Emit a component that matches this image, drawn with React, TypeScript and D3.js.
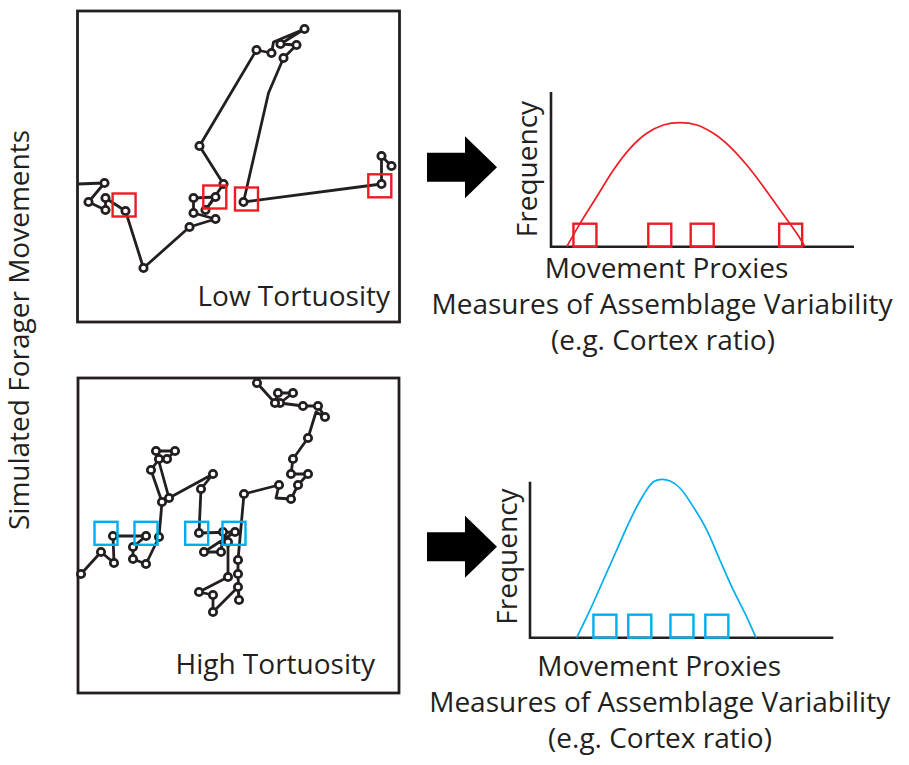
import React from 'react';
import * as d3 from 'd3';

const INK = '#231f20';
const RED = '#ed1c24';
const BLUE = '#00aeef';
const FONT = "'Open Sans', 'Noto Sans', sans-serif";

// ---- Simulated forager walks (panel-relative units), [x, y, isLocation]
const lowWalk: [number, number, number][] = [
  [0, 173, 0], [27, 172, 1], [11, 191, 1], [28, 199, 1], [28, 187, 1], [48, 200, 1],
  [66, 257, 1], [112, 216, 1], [138, 208, 1], [116, 202, 1], [116, 187, 1], [138, 186, 1],
  [128, 199, 1], [146, 173, 1], [122, 135, 1], [179, 39, 1], [194, 42, 1], [196, 31, 0],
  [227, 18, 1], [203, 33, 1], [219, 34, 1], [206, 47, 1], [191, 82, 0], [166, 191, 1],
  [304, 173, 1], [304, 145, 1], [314, 155, 1],
];
const lowSamples: [number, number][] = [[46.6, 194], [137.3, 186], [169, 188], [302.3, 174.8]];

const highWalk: [number, number, number][] = [
  [3, 196, 1], [23, 174, 1], [36, 185, 1], [35, 158, 1], [68, 158, 1], [55, 169, 1],
  [55, 181, 1], [68, 186, 1], [81, 159, 1], [84, 124, 1], [73, 92, 1], [81, 81, 1],
  [89, 81, 1], [97, 73, 1], [78, 73, 1], [91, 120, 1], [135, 96, 1], [123, 111, 1],
  [121, 155, 1], [157, 154, 1], [126, 174, 1], [143, 174, 1], [145, 154, 1], [150, 164, 1],
  [150, 199, 1], [121, 214, 1], [135, 217, 1], [135, 234, 1], [160, 209, 1], [161, 222, 1],
  [160, 196, 1], [160, 182, 1], [166, 116, 1], [201, 107, 1], [198, 120, 0], [213, 121, 1],
  [220, 107, 1], [230, 96, 1], [213, 96, 1], [215, 81, 1], [230, 60, 1], [238, 34, 0],
  [247, 39, 1], [240, 28, 1], [225, 28, 1], [202, 25, 1], [215, 15, 1], [200, 15, 1],
  [197, 25, 1], [179, 5, 1],
];
const highSamples: [number, number][] = [[28, 155.3], [68, 155.3], [118.7, 155.3], [156, 155.3]];

// ---- Frequency distributions of movement proxies (x: proxy units 0-100, y: frequency 0-100)
const redCurveX = [5.2, 9.6, 15.1, 20.6, 26.1, 31.6, 37.1, 42.6, 48.1, 53.6, 59.1, 64.6, 70.1, 75.6, 81.1, 83.8];
const redCurveY = [0, 15.1, 32.3, 49.6, 63.6, 73.3, 78.7, 80.2, 78.7, 73.3, 64.6, 52.8, 38.8, 23.7, 8.7, 0];
const redSamplesX = [11.2, 35.9, 49.9, 79.1];

const blueCurveX = [15.4, 19.8, 24.2, 28.6, 33.0, 37.4, 40.7, 43.4, 46.2, 49.5, 53.8, 58.3, 62.6, 67.0, 71.4, 74.5];
const blueCurveY = [0, 17.8, 37.0, 56.2, 75.4, 91.5, 100, 101.5, 100.4, 95.8, 84.0, 69.0, 49.8, 30.6, 13.5, 0];
const blueSamplesX = [24.7, 36.2, 50.1, 61.6];

const xLabelLines = ['Movement Proxies', 'Measures of Assemblage Variability', '(e.g. Cortex ratio)'];

type PanelProps = {
  x: number; y: number; w: number; h: number;
  walk: [number, number, number][]; samples: [number, number][];
  color: string; label: string; labelY: number; labelX: number;
};

function Panel({ x, y, w, h, walk, samples, color, label, labelX, labelY }: PanelProps) {
  const sx = d3.scaleLinear().domain([0, w]).range([x, x + w]);
  const sy = d3.scaleLinear().domain([0, h]).range([y, y + h]);
  const line = d3.line<[number, number, number]>().x(d => sx(d[0])).y(d => sy(d[1]));
  const S = 23;
  return (
    <g>
      <rect x={x} y={y} width={w} height={h} fill="none" stroke={INK} strokeWidth={2.8} />
      <path d={line(walk) || ''} fill="none" stroke={INK} strokeWidth={2.8} strokeLinejoin="round" />
      {walk.filter(d => d[2]).map((d, i) => (
        <circle key={i} cx={sx(d[0])} cy={sy(d[1])} r={3.7} fill="#fff" stroke={INK} strokeWidth={2.7} />
      ))}
      {samples.map((d, i) => (
        <rect key={i} x={sx(d[0]) - S / 2} y={sy(d[1]) - S / 2} width={S} height={S}
          fill="none" stroke={color} strokeWidth={2.4} />
      ))}
      <text x={labelX} y={labelY} textAnchor="end" fontSize={28} fill={INK} fontFamily={FONT}>{label}</text>
    </g>
  );
}

type ChartProps = {
  ox: number; oy: number; w: number; h: number;
  cx: number[]; cy: number[]; samples: number[]; color: string;
  freqX: number; freqY: number; labelCx: number[]; labelY0: number;
  arrowX: number; arrowY: number;
};

function DistChart({ ox, oy, w, h, cx, cy, samples, color, freqX, freqY, labelCx, labelY0, arrowX, arrowY }: ChartProps) {
  const xs = d3.scaleLinear().domain([0, 100]).range([ox, ox + w]);
  const ys = d3.scaleLinear().domain([0, 100]).range([oy, oy - h]);
  const pts = cx.map((v, i) => [v, cy[i]] as [number, number]);
  const line = d3.line<[number, number]>().x(d => xs(d[0])).y(d => ys(d[1])).curve(d3.curveCatmullRom.alpha(0.5));
  const S = 23;
  const ax = arrowX, ay = arrowY;
  const arrow = [
    [ax, ay - 14.5], [ax + 38, ay - 14.5], [ax + 38, ay - 31], [ax + 70, ay],
    [ax + 38, ay + 31], [ax + 38, ay + 14.5], [ax, ay + 14.5],
  ].map(p => p.join(',')).join(' ');
  return (
    <g>
      <polygon points={arrow} fill="#000" />
      <line x1={xs(0)} x2={xs(0)} y1={oy + 1.3} y2={oy - h} stroke={INK} strokeWidth={2.6} />
      <line x1={xs(0)} x2={xs(100)} y1={oy} y2={oy} stroke={INK} strokeWidth={2.6} />
      <path d={line(pts) || ''} fill="none" stroke={color} strokeWidth={1.7} />
      {samples.map((v, i) => (
        <rect key={i} x={xs(v) - S / 2} y={oy - S} width={S} height={S} fill="none" stroke={color} strokeWidth={2.4} />
      ))}
      <text transform={`translate(${freqX},${freqY}) rotate(-90)`} textAnchor="middle" fontSize={28}
        fill={INK} fontFamily={FONT}>Frequency</text>
      {xLabelLines.map((t, i) => (
        <text key={i} x={labelCx[i]} y={labelY0 + i * 35.8} textAnchor="middle" fontSize={28}
          fill={INK} fontFamily={FONT}>{t}</text>
      ))}
    </g>
  );
}

export default function App() {
  return (
    <svg width={909} height={765} viewBox="0 0 909 765"
      style={{ position: 'absolute', left: 0, top: 0, background: '#fff' }}>
      <text transform="translate(29,330) rotate(-90)" textAnchor="middle" fontSize={28} fill={INK}
        fontFamily={FONT}>Simulated Forager Movements</text>
      <Panel x={77.5} y={11} w={322} h={311} walk={lowWalk} samples={lowSamples} color={RED}
        label="Low Tortuosity" labelX={390} labelY={306} />
      <Panel x={78} y={378} w={321} h={315} walk={highWalk} samples={highSamples} color={BLUE}
        label="High Tortuosity" labelX={375} labelY={674} />
      <DistChart ox={551} oy={246.7} w={303} h={154.7} cx={redCurveX} cy={redCurveY} samples={redSamplesX}
        color={RED} freqX={537} freqY={169} labelCx={[666.5, 662, 663]} labelY0={278.3}
        arrowX={427} arrowY={167.3} />
      <DistChart ox={530} oy={637.7} w={303.3} h={156} cx={blueCurveX} cy={blueCurveY} samples={blueSamplesX}
        color={BLUE} freqX={517} freqY={556.5} labelCx={[659.2, 659.7, 660]} labelY0={676}
        arrowX={427} arrowY={546.7} />
    </svg>
  );
}
